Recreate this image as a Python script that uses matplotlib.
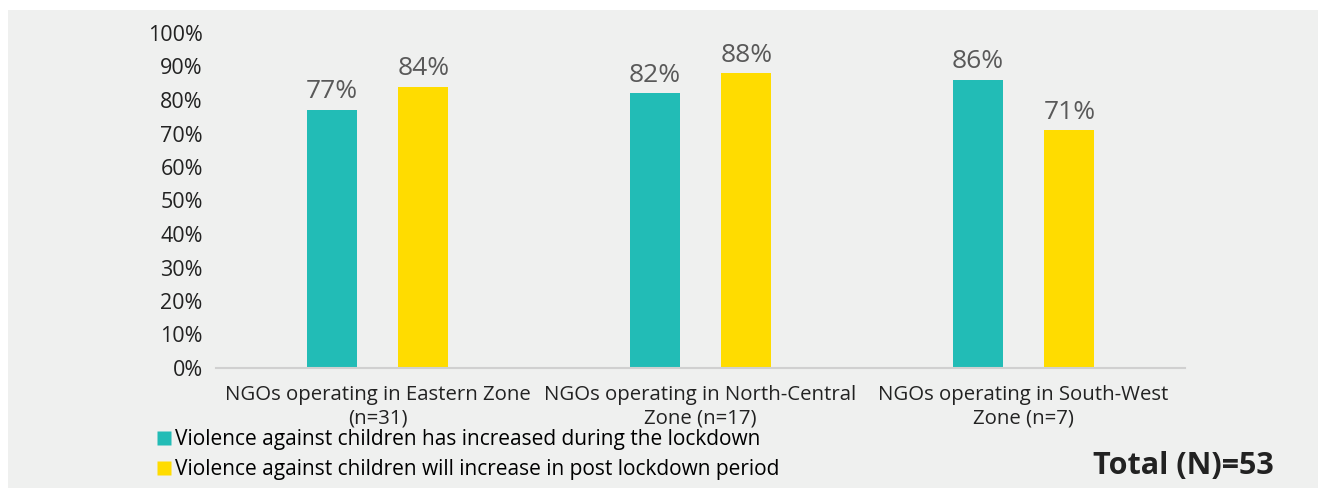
import numpy as np
import matplotlib.pyplot as plt
from matplotlib.patches import Rectangle
from matplotlib.lines import Line2D

# Dados
zonas = ["NGOs operating in Eastern Zone\n(n=31)",
         "NGOs operating in North-Central\nZone (n=17)",
         "NGOs operating in South-West\nZone (n=7)"]
durante = [77, 82, 86]
pos_lockdown = [84, 88, 71]
series = ["Violence against children has increased during the lockdown",
          "Violence against children will increase in post lockdown period"]
cores = ["#22bcb6", "#ffdc00"]
total_label = "Total (N)=53"

plt.rcParams['font.family'] = ['Open Sans', 'DejaVu Sans']

fig = plt.figure(figsize=(13.27, 4.88), dpi=100, facecolor="white")
# painel cinza de fundo
fig.patches.append(Rectangle((8 / 1327, 0), 1310 / 1327, 478 / 488,
                             transform=fig.transFigure, facecolor="#eff0ef",
                             edgecolor="none", zorder=-10))

ax = fig.add_axes([216 / 1327, 1 - 368 / 488, 969 / 1327, 335 / 488])
ax.set_facecolor("none")

x = np.arange(len(zonas))
w = 0.155
off = 0.142
b1 = ax.bar(x - off, durante, w, color=cores[0], zorder=2)
b2 = ax.bar(x + off, pos_lockdown, w, color=cores[1], zorder=2)

for bars, vals in [(b1, durante), (b2, pos_lockdown)]:
    for b, v in zip(bars, vals):
        ax.annotate(f"{v}%", (b.get_x() + b.get_width() / 2, v),
                    xytext=(0, 4), textcoords="offset points",
                    ha="center", va="bottom", fontsize=19, color="#595959")

ax.set_ylim(0, 100)
ax.set_xlim(-0.5, 2.5)
ax.set_yticks(np.arange(0, 101, 10))
ax.set_yticklabels([f"{t}%" for t in range(0, 101, 10)])
ax.set_xticks(x)
ax.set_xticklabels(zonas, fontsize=14.7, linespacing=1.25)
ax.tick_params(axis="both", length=0, colors="#222222")
ax.tick_params(axis="y", pad=9.5, labelsize=15.5)
ax.tick_params(axis="x", pad=12)
for s in ["top", "right", "left"]:
    ax.spines[s].set_visible(False)
ax.spines["bottom"].set_color("#d0d0d0")
ax.spines["bottom"].set_linewidth(1.5)

handles = [Line2D([], [], marker="s", linestyle="none", markersize=10,
                  markerfacecolor=c, markeredgecolor="none") for c in cores]
fig.legend(handles, series, loc="upper left", bbox_to_anchor=(157 / 1327, 1 - 429 / 488),
           frameon=False, fontsize=15, handlelength=0.7, handletextpad=0.15,
           labelspacing=0.45, borderaxespad=0, borderpad=0)

fig.text(1183 / 1327, 1 - 466 / 488, total_label, ha="center", va="center",
         fontsize=22, fontweight="bold", color="#222222")

fig.savefig("out.png", dpi=100, facecolor="white")
